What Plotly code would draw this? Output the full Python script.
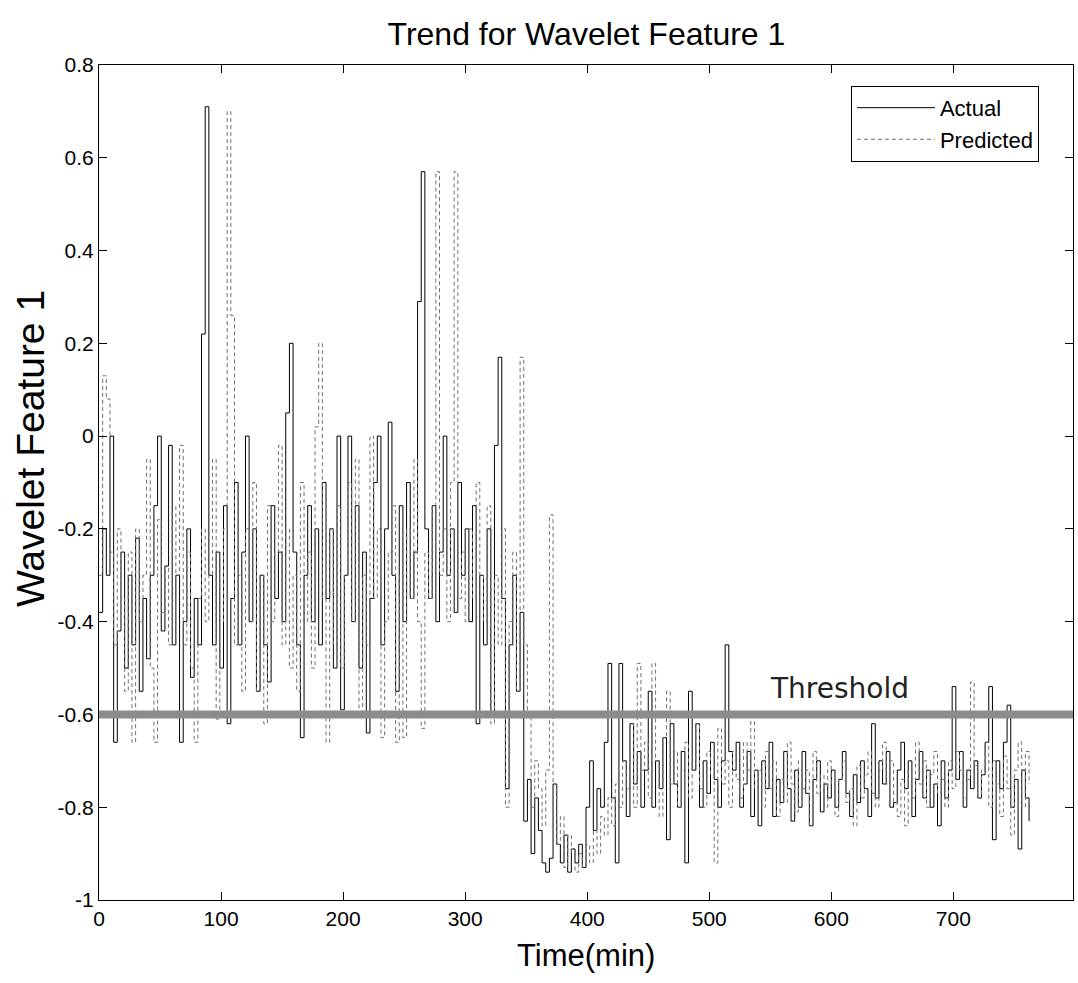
import plotly.graph_objects as go

# ---------------- data ----------------
time_min = list(range(0, 763, 3))  # sampling grid of the series (minutes)

actual = [
    -0.38, -0.20, -0.30, 0.00, -0.66, -0.42, -0.25, -0.50, -0.30, -0.45,
    -0.22, -0.55, -0.35, -0.48, -0.30, -0.15, 0.00, -0.42, -0.28, -0.02,
    -0.45, -0.30, -0.66, -0.40, -0.20, -0.52, -0.35, -0.45, 0.22, 0.71,
    -0.30, -0.45, -0.25, -0.50, -0.15, -0.62, -0.35, -0.10, -0.45, -0.25,
    0.00, -0.40, -0.20, -0.55, -0.30, -0.45, -0.53, -0.15, -0.35, -0.25,
    -0.40, 0.05, 0.20, -0.25, -0.45, -0.65, -0.30, -0.15, -0.40, -0.20,
    -0.45, -0.10, -0.35, -0.20, -0.50, 0.00, -0.59, -0.30, 0.00, -0.40,
    -0.15, -0.50, -0.25, -0.64, -0.35, -0.10, 0.00, -0.45, -0.20, 0.03,
    -0.30, -0.55, -0.15, -0.40, -0.10, -0.35, -0.25, 0.29, 0.57, -0.20,
    -0.35, -0.15, -0.40, -0.25, 0.00, -0.30, -0.20, -0.38, -0.10, -0.30,
    -0.20, -0.40, -0.15, -0.62, -0.30, -0.45, -0.20, -0.60, -0.02, 0.17,
    -0.35, -0.76, -0.45, -0.30, -0.55, -0.38, -0.83, -0.74, -0.90, -0.78,
    -0.85, -0.92, -0.94, -0.91, -0.75, -0.88, -0.92, -0.86, -0.94, -0.89,
    -0.92, -0.88, -0.93, -0.80, -0.70, -0.85, -0.76, -0.80, -0.66, -0.49,
    -0.78, -0.92, -0.49, -0.70, -0.82, -0.62, -0.75, -0.68, -0.80, -0.72,
    -0.55, -0.80, -0.70, -0.76, -0.65, -0.87, -0.62, -0.75, -0.80, -0.68,
    -0.92, -0.55, -0.72, -0.62, -0.80, -0.70, -0.77, -0.66, -0.74, -0.80,
    -0.70, -0.45, -0.68, -0.72, -0.66, -0.80, -0.75, -0.68, -0.82, -0.72,
    -0.84, -0.70, -0.76, -0.66, -0.82, -0.74, -0.79, -0.68, -0.76, -0.83,
    -0.72, -0.80, -0.68, -0.77, -0.84, -0.74, -0.70, -0.81, -0.75, -0.78,
    -0.72, -0.80, -0.74, -0.68, -0.77, -0.82, -0.73, -0.79, -0.70, -0.76,
    -0.82, -0.62, -0.78, -0.70, -0.75, -0.68, -0.80, -0.79, -0.72, -0.66,
    -0.76, -0.70, -0.82, -0.74, -0.68, -0.78, -0.72, -0.80, -0.75, -0.84,
    -0.70, -0.78, -0.72, -0.54, -0.74, -0.68, -0.80, -0.72, -0.76, -0.70,
    -0.78, -0.73, -0.66, -0.54, -0.87, -0.70, -0.76, -0.66, -0.58, -0.80,
    -0.74, -0.89, -0.72, -0.78, -0.83,
]

predicted = [
    -0.30, 0.13, 0.08, -0.25, -0.45, -0.20, -0.35, -0.55, -0.25, -0.66,
    -0.20, -0.40, -0.30, -0.05, -0.50, -0.66, -0.18, -0.38, -0.28, -0.45,
    -0.15, -0.30, -0.02, -0.45, -0.25, -0.50, -0.66, -0.35, -0.20, -0.40,
    -0.30, -0.05, -0.61, -0.40, -0.20, 0.70, 0.26, -0.45, -0.30, -0.55,
    -0.20, -0.40, -0.10, -0.55, -0.30, -0.62, -0.15, -0.40, -0.25, -0.02,
    -0.45, -0.20, -0.50, -0.30, -0.55, -0.10, -0.40, -0.25, -0.50, 0.02,
    0.20, -0.35, -0.66, -0.20, -0.45, -0.15, -0.50, -0.30, -0.10, -0.40,
    -0.05, -0.60, -0.30, -0.45, 0.00, -0.35, -0.20, -0.65, -0.40, -0.25,
    -0.15, -0.66, -0.30, -0.65, -0.20, -0.35, -0.05, -0.40, -0.63, -0.25,
    -0.35, -0.15, 0.57, -0.30, -0.20, -0.40, -0.10, 0.57, -0.35, -0.25,
    -0.40, -0.20, -0.35, -0.10, -0.30, -0.40, -0.15, -0.62, -0.30, -0.45,
    -0.20, -0.80, -0.40, -0.25, -0.55, 0.17, -0.45, -0.60, -0.80, -0.70,
    -0.76, -0.84, -0.72, -0.17, -0.75, -0.88, -0.82, -0.93, -0.86, -0.90,
    -0.94, -0.90, -0.93, -0.88, -0.92, -0.85, -0.90, -0.82, -0.86, -0.78,
    -0.84, -0.75, -0.80, -0.70, -0.76, -0.62, -0.80, -0.49, -0.72, -0.66,
    -0.78, -0.49, -0.70, -0.82, -0.65, -0.55, -0.75, -0.68, -0.80, -0.72,
    -0.66, -0.78, -0.70, -0.62, -0.76, -0.80, -0.68, -0.73, -0.92, -0.63,
    -0.75, -0.70, -0.80, -0.68, -0.74, -0.78, -0.66, -0.72, -0.60, -0.76,
    -0.72, -0.80, -0.68, -0.76, -0.70, -0.82, -0.74, -0.79, -0.66, -0.75,
    -0.81, -0.70, -0.76, -0.72, -0.84, -0.68, -0.77, -0.73, -0.80, -0.70,
    -0.75, -0.82, -0.74, -0.70, -0.79, -0.76, -0.84, -0.71, -0.78, -0.73,
    -0.68, -0.77, -0.80, -0.72, -0.66, -0.75, -0.70, -0.79, -0.82, -0.74,
    -0.84, -0.72, -0.78, -0.66, -0.75, -0.70, -0.80, -0.73, -0.68, -0.77,
    -0.74, -0.80, -0.70, -0.76, -0.68, -0.72, -0.78, -0.74, -0.53, -0.71,
    -0.78, -0.72, -0.66, -0.80, -0.70, -0.75, -0.82, -0.69, -0.76, -0.86,
    -0.72, -0.66, -0.80, -0.68, -0.75,
]

threshold_value = -0.6
x_ticks = [0, 100, 200, 300, 400, 500, 600, 700]
y_ticks = [0.8, 0.6, 0.4, 0.2, 0, -0.2, -0.4, -0.6, -0.8, -1]
y_tick_text = ["0.8", "0.6", "0.4", "0.2", "0", "-0.2", "-0.4", "-0.6", "-0.8", "-1"]

# ---------------- figure ----------------
FONT = "Liberation Sans, Arial, sans-serif"

fig = go.Figure()
fig.add_trace(go.Scatter(
    x=time_min, y=actual, name="Actual", mode="lines",
    line=dict(color="#000000", width=1, shape="hv"),
))
fig.add_trace(go.Scatter(
    x=time_min, y=predicted, name="Predicted", mode="lines",
    line=dict(color="#707070", width=1, shape="hv", dash="4px,3px"),
))

fig.add_shape(type="line", xref="paper", x0=0, x1=1, yref="y",
              y0=threshold_value, y1=threshold_value,
              line=dict(color="#8c8c8c", width=8), layer="above")

fig.add_annotation(x=607, y=-0.545, xref="x", yref="y", text="Threshold",
                   showarrow=False, font=dict(family="DejaVu Sans", size=28, color="#222222"))

fig.add_annotation(x=0.5, y=-0.066, xref="paper", yref="paper", text="Time(min)",
                   showarrow=False, yanchor="middle",
                   font=dict(family=FONT, size=31, color="#000000"))
fig.add_annotation(x=-0.071, y=0.541, xref="paper", yref="paper", text="Wavelet Feature 1",
                   showarrow=False, textangle=-90, xanchor="center", yanchor="middle",
                   font=dict(family=FONT, size=39, color="#000000"))

axis_common = dict(showgrid=False, zeroline=False, showline=True, linecolor="#000000",
                   linewidth=1, mirror="ticks", ticks="inside", ticklen=8,
                   tickcolor="#000000", tickwidth=1,
                   tickfont=dict(family=FONT, size=21, color="#000000"))

fig.update_layout(
    width=1078, height=983,
    margin=dict(l=99, r=5, t=65, b=83),
    paper_bgcolor="#ffffff", plot_bgcolor="#ffffff",
    title=dict(text="Trend for Wavelet Feature 1", x=0.544, xanchor="center",
               y=0.966, yanchor="middle",
               font=dict(family=FONT, size=32, color="#000000")),
    xaxis=dict(range=[0, 798], tickvals=x_ticks, **axis_common),
    yaxis=dict(range=[-1, 0.8], tickvals=y_ticks, ticktext=y_tick_text, **axis_common),
    legend=dict(x=0.772, y=0.975, xanchor="left", yanchor="top",
                bgcolor="#ffffff", bordercolor="#000000", borderwidth=1,
                font=dict(family=FONT, size=22, color="#000000"),
                tracegroupgap=0, itemwidth=78),
    showlegend=True,
)

fig.write_html("out.html")
